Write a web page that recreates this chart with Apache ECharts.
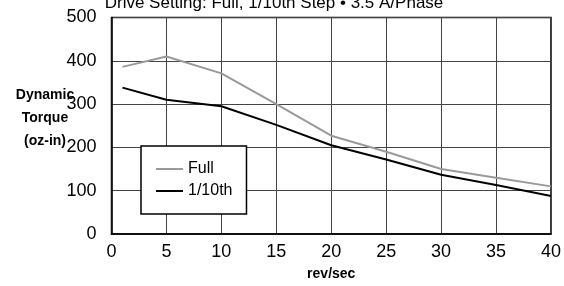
<!DOCTYPE html>
<html>
<head>
<meta charset="utf-8">
<script src="https://cdn.jsdelivr.net/npm/echarts@6/dist/echarts.min.js"></script>
<style>
  html, body { margin: 0; padding: 0; background: #fff; }
  #chart { width: 564px; height: 286px; }
</style>
</head>
<body>
<div id="chart"></div>
<script>
  // 数据
  const speeds = [1, 5, 10, 15, 20, 25, 30, 35, 40];
  const fullTorque = [386, 410, 371, 300, 227, 190, 150, 130, 110];
  const tenthTorque = [338, 310, 295, 252, 205, 172, 137, 113, 88];
  const seriesNames = ['Full', '1/10th'];

  const font = '"Liberation Sans Narrow", "Liberation Sans", Arial, sans-serif';

  const chart = echarts.init(document.getElementById('chart'));
  const option = {
    animation: false,
    title: {
      text: 'Drive Setting: Full, 1/10th Step • 3.5 A/Phase',
      left: 269,
      textAlign: 'center',
      top: -10,
      textStyle: { fontFamily: font, fontSize: 17, fontWeight: 'normal', color: '#000' }
    },
    legend: {
      data: seriesNames,
      orient: 'vertical',
      left: 141,
      top: 146,
      padding: [15, 14, 15, 15],
      itemGap: 6,
      itemWidth: 27,
      itemHeight: 2,
      backgroundColor: '#fff',
      borderColor: '#000',
      borderWidth: 1.5,
      icon: 'rect',
      textStyle: { fontFamily: font, fontSize: 16, color: '#000' }
    },
    grid: {
      left: 111.5,
      right: 10,
      top: 17.5,
      bottom: 47,
      show: true,
      borderColor: '#000',
      borderWidth: 1.5
    },
    xAxis: {
      type: 'value',
      min: 0,
      max: 40,
      interval: 5,
      name: 'rev/sec',
      nameLocation: 'middle',
      nameGap: 33,
      nameTextStyle: { fontFamily: font, fontSize: 14, fontWeight: 'bold', color: '#000' },
      axisLine: { lineStyle: { color: '#000', width: 1.5 } },
      axisTick: { show: false },
      axisLabel: { fontFamily: font, fontSize: 18, color: '#000', margin: 9 },
      splitLine: { show: true, lineStyle: { color: '#444', width: 1 } }
    },
    yAxis: {
      type: 'value',
      min: 0,
      max: 500,
      interval: 100,
      axisLine: { show: true, lineStyle: { color: '#000', width: 1.5 } },
      axisTick: { show: false },
      axisLabel: { fontFamily: font, fontSize: 18, color: '#000', margin: 15 },
      splitLine: { show: true, lineStyle: { color: '#444', width: 1 } }
    },
    graphic: [{
      type: 'text',
      x: 45,
      y: 84,
      z: 10,
      style: {
        text: 'Dynamic\nTorque\n(oz-in)',
        align: 'center',
        verticalAlign: 'top',
        fontFamily: font,
        fontSize: 14,
        fontWeight: 'bold',
        lineHeight: 23,
        fill: '#000'
      }
    }],
    series: [{
      name: seriesNames[0],
      type: 'line',
      symbol: 'none',
      lineStyle: { color: '#9a9a9a', width: 2 },
      itemStyle: { color: '#9a9a9a' },
      data: speeds.map((s, i) => [s, fullTorque[i]]),
      z: 3
    }, {
      name: seriesNames[1],
      type: 'line',
      symbol: 'none',
      lineStyle: { color: '#000', width: 2 },
      itemStyle: { color: '#000' },
      data: speeds.map((s, i) => [s, tenthTorque[i]]),
      z: 4
    }]
  };
  chart.setOption(option);
</script>
</body>
</html>
